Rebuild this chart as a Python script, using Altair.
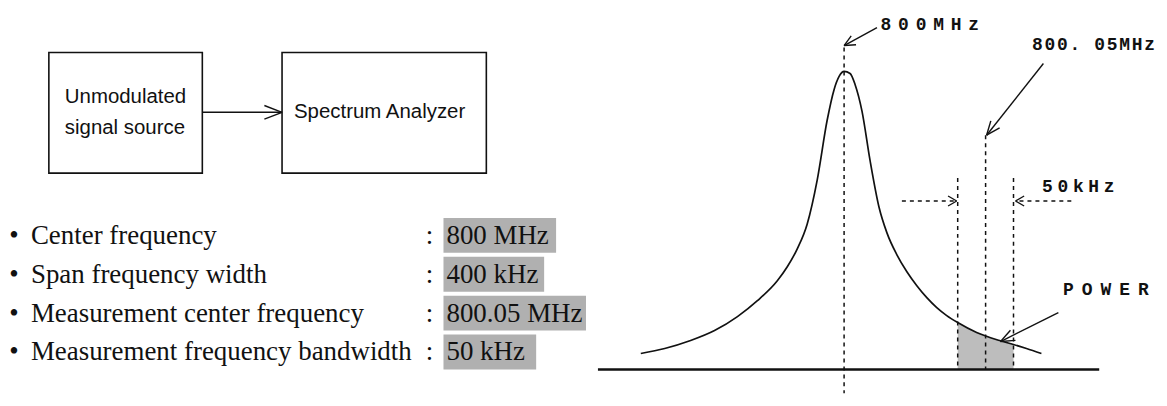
import math
import altair as alt
import pandas as pd

# ---------------- chart values ----------------
source_lines = ["Unmodulated", "signal source"]
analyzer_label = "Spectrum Analyzer"
param_names = ["Center frequency", "Span frequency width",
               "Measurement center frequency", "Measurement frequency bandwidth"]
param_values = ["800 MHz", "400 kHz", "800.05 MHz", "50 kHz"]

# spectrum trace (diagram units, y grows downward)
curve_x = [643, 667, 693, 717, 740, 760, 780, 790, 800, 810, 820, 830, 837, 842, 847,
           853, 858, 865, 873, 882, 890, 900, 910, 920, 930, 940, 950, 961, 980,
           1003, 1017, 1030, 1045]
curve_y = [354, 349, 341, 331, 317, 301, 281, 267, 249, 224, 180, 120, 89, 76, 71,
           73, 84, 111, 160, 207, 233, 255, 272, 286, 298, 308, 316, 323, 333,
           341, 345, 349, 354]

center_label = "800MHz"
meas_label = "800. 05MHz"
band_label = "50kHz"
power_label = "POWER"

center_pos = 847
meas_pos = 989
band_edges = [961, 1017]
baseline_pos = 370

# ---------------- layout ----------------
W, H = 1155, 386
XD = [8, 8 + W]
YD = [8, 8 + H]

X = lambda f="x": alt.X(f"{f}:Q", scale=alt.Scale(domain=XD, nice=False, zero=False), axis=None)
Y = lambda f="y": alt.Y(f"{f}:Q", scale=alt.Scale(domain=YD, nice=False, zero=False, reverse=True), axis=None)

boxes = pd.DataFrame([dict(x=49, x2=203, y=52, y2=173),
                      dict(x=283, x2=488, y=52, y2=173)])
line_ys = [236, 275, 314, 353]
value_right = [558, 546, 588, 538]


def head(x1, y1, x2, y2, L, ang):
    dx, dy = x1 - x2, y1 - y2
    n = math.hypot(dx, dy)
    ux, uy = dx / n, dy / n
    out = []
    for s in (1, -1):
        a = math.radians(ang) * s
        rx = ux * math.cos(a) - uy * math.sin(a)
        ry = ux * math.sin(a) + uy * math.cos(a)
        out.append(dict(x=x2, y=y2, x2=x2 + L * rx, y2=y2 + L * ry))
    return out


solid = []
for (a, b, c, d, L, ang) in [(203, 112, 283, 112, 19, 21),
                             (880, 27, 847, 45, 12, 25),
                             (1047, 63, 990, 135, 15, 22),
                             (1062, 313, 1004, 342, 15, 22)]:
    solid.append(dict(x=a, y=b, x2=c, y2=d))
    solid += head(a, b, c, d, L, ang)
solid += head(905, 201, 960, 201, 10, 30)
solid += head(1075, 201, 1019, 201, 10, 30)
solid = pd.DataFrame(solid)

dashed = pd.DataFrame([
    dict(x=center_pos, y=47, x2=center_pos, y2=8 + H),
    dict(x=meas_pos, y=135, x2=meas_pos, y2=baseline_pos),
    dict(x=band_edges[0], y=178, x2=band_edges[0], y2=baseline_pos),
    dict(x=band_edges[1], y=178, x2=band_edges[1], y2=baseline_pos),
    dict(x=905, y=201, x2=960, y2=201),
    dict(x=1075, y=201, x2=1019, y2=201),
])
base = pd.DataFrame([dict(x=600, y=baseline_pos, x2=1103, y2=baseline_pos)])

curve = pd.DataFrame({"x": curve_x, "y": curve_y})
fill = curve[(curve.x >= band_edges[0]) & (curve.x <= band_edges[1])].copy()
fill["base"] = baseline_pos

vals = pd.DataFrame({"t": param_values, "y": line_ys, "x": 448,
                     "x0": 445, "x2": value_right,
                     "y0": [v - 18 for v in line_ys], "y2": [v + 17 for v in line_ys]})
names = pd.DataFrame({"t": param_names, "y": line_ys, "x": 31})
bullets = pd.DataFrame({"t": "•", "y": line_ys, "x": 14})
colons = pd.DataFrame({"t": ":", "y": line_ys, "x": 431})
box_text = pd.DataFrame({"t": source_lines + [analyzer_label],
                         "x": [65, 65, 295], "y": [97, 128, 112]})


def spaced(s, x0, y, pitch):
    return [dict(t=ch, x=x0 + i * pitch, y=y) for i, ch in enumerate(s) if ch != " "]


mono = pd.DataFrame(spaced(center_label, 889, 24, 17.6)
                    + spaced(meas_label, 1041, 44, 12.5)
                    + spaced(band_label, 1051, 187, 15.5)
                    + spaced(power_label, 1072, 290, 18.8))

layers = [
    alt.Chart(vals).mark_rect(color="#b0b0b0").encode(x=X("x0"), x2="x2", y=Y("y0"), y2="y2"),
    alt.Chart(boxes).mark_rect(fill="white", fillOpacity=0, stroke="#111", strokeWidth=1.6)
        .encode(x=X(), x2="x2", y=Y(), y2="y2"),
    alt.Chart(fill).mark_area(color="#bdbdbd", interpolate="monotone")
        .encode(x=X(), y=Y(), y2="base"),
    alt.Chart(curve).mark_line(color="#111", strokeWidth=1.7, interpolate="monotone")
        .encode(x=X(), y=Y()),
    alt.Chart(solid).mark_rule(color="#111", strokeWidth=1.4)
        .encode(x=X(), x2="x2", y=Y(), y2="y2"),
    alt.Chart(dashed).mark_rule(color="#111", strokeWidth=1.5, strokeDash=[4, 4])
        .encode(x=X(), x2="x2", y=Y(), y2="y2"),
    alt.Chart(base).mark_rule(color="#111", strokeWidth=2.5)
        .encode(x=X(), x2="x2", y=Y(), y2="y2"),
    alt.Chart(box_text).mark_text(font="Liberation Sans", fontSize=20.5, align="left",
                                  baseline="middle", color="#111")
        .encode(x=X(), y=Y(), text="t:N"),
    alt.Chart(names).mark_text(font="Liberation Serif", fontSize=27, align="left",
                               baseline="middle", color="#111")
        .encode(x=X(), y=Y(), text="t:N"),
    alt.Chart(bullets).mark_text(font="Liberation Serif", fontSize=27, align="center",
                                 baseline="middle", color="#111")
        .encode(x=X(), y=Y(), text="t:N"),
    alt.Chart(colons).mark_text(font="Liberation Serif", fontSize=27, align="center",
                                baseline="middle", color="#111")
        .encode(x=X(), y=Y(), text="t:N"),
    alt.Chart(vals).mark_text(font="Liberation Serif", fontSize=27, align="left",
                              baseline="middle", color="#111")
        .encode(x=X(), y=Y(), text="t:N"),
    alt.Chart(mono).mark_text(font="Liberation Mono", fontSize=18, fontWeight="bold",
                              align="center", baseline="middle", color="#111")
        .encode(x=X(), y=Y(), text="t:N"),
]

chart = alt.layer(*layers).properties(
    width=W, height=H, padding=0,
    autosize=alt.AutoSizeParams(type="none"),
    background="white",
).configure_view(stroke=None)

chart.save("out.html", embed_options={"renderer": "svg", "actions": False})
